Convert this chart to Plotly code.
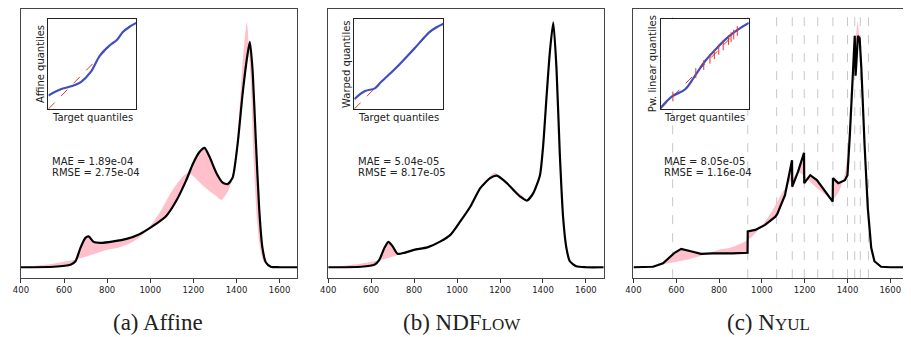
import plotly.graph_objects as go

# ---------------- data ----------------
# target intensity histogram (pink reference)
x_target = [400, 450, 500, 550, 600, 650, 700, 750, 800, 850, 900, 950, 1000, 1050, 1100,
            1150, 1175, 1200, 1250, 1300, 1330, 1360, 1390, 1410, 1430, 1448, 1465, 1480,
            1495, 1510, 1525, 1550, 1600, 1683]
y_target = [0.0, 0.02, 0.045, 0.07, 0.11, 0.15, 0.21, 0.28, 0.35, 0.39, 0.47, 0.60, 0.83, 1.14, 1.53,
            1.82, 1.90, 1.83, 1.62, 1.45, 1.35, 1.52, 1.92, 2.90, 4.20, 4.93, 3.85, 2.15,
            0.95, 0.37, 0.12, 0.03, 0.0, 0.0]

# (a) Affine
x_affine = [400, 553, 630, 653, 676, 699, 714, 737, 768, 829, 890, 952, 1013, 1074, 1120, 1166,
            1198, 1229, 1252, 1275, 1306, 1336, 1359, 1382, 1405, 1428, 1451, 1462, 1474, 1490,
            1505, 1520, 1536, 1559, 1600, 1683]
y_affine = [0.0, 0.01, 0.05, 0.12, 0.39, 0.59, 0.62, 0.51, 0.49, 0.52, 0.57, 0.67, 0.83, 1.03, 1.33, 1.74,
            2.08, 2.32, 2.40, 2.22, 1.90, 1.70, 1.67, 1.80, 2.47, 3.47, 4.27, 4.53, 4.00, 2.53,
            1.20, 0.40, 0.10, 0.01, 0.0, 0.0]

# (b) NDFlow
x_ndflow = [400, 554, 615, 638, 662, 680, 700, 723, 754, 800, 862, 923, 969, 1015, 1062, 1108,
            1154, 1185, 1232, 1263, 1294, 1325, 1355, 1386, 1401, 1417, 1432, 1448, 1463, 1478,
            1494, 1509, 1525, 1555, 1600, 1683]
y_ndflow = [0.0, 0.01, 0.05, 0.15, 0.39, 0.51, 0.42, 0.27, 0.29, 0.35, 0.40, 0.52, 0.65, 0.92, 1.22, 1.59,
            1.79, 1.84, 1.69, 1.55, 1.42, 1.34, 1.49, 1.85, 2.45, 3.45, 4.32, 4.92, 3.99, 2.32,
            0.99, 0.39, 0.12, 0.02, 0.0, 0.0]

# (c) Nyul (piecewise linear, jumps at landmarks)
x_nyul = [400, 492, 538, 569, 592, 623, 646, 677, 715, 769, 862, 933, 934, 969, 1015, 1062, 1072,
          1108, 1141, 1142, 1169, 1197, 1198, 1226, 1257, 1295, 1331, 1332, 1357, 1388, 1400, 1411,
          1426, 1434, 1438, 1449, 1457, 1465, 1480, 1495, 1511, 1526, 1557, 1600, 1683]
y_nyul = [0.0, 0.01, 0.08, 0.19, 0.29, 0.37, 0.35, 0.31, 0.27, 0.28, 0.28, 0.29, 0.72, 0.75, 0.85, 1.01, 1.07,
          1.45, 2.15, 1.62, 1.92, 2.30, 1.69, 1.85, 1.75, 1.52, 1.32, 1.79, 1.69, 1.75, 1.85, 2.65,
          3.79, 4.65, 3.85, 4.65, 4.60, 3.99, 2.45, 1.19, 0.39, 0.12, 0.01, 0.0, 0.0]
nyul_landmarks = [583, 934, 1069, 1142, 1198, 1261, 1332, 1400, 1434, 1460, 1498]

# Q-Q insets (normalised quantiles)
qq_diag = [0, 1]
qa_x = [0, 0.14, 0.25, 0.37, 0.48, 0.59, 0.70, 0.78, 0.85, 0.93, 1.0]
qa_y = [0.15, 0.22, 0.25, 0.30, 0.41, 0.60, 0.71, 0.77, 0.86, 0.92, 0.96]
qb_x = [0, 0.12, 0.23, 0.30, 0.49, 0.67, 0.86, 1.0]
qb_y = [0.11, 0.20, 0.23, 0.30, 0.48, 0.67, 0.87, 0.95]
qc_x = [0, 0.13, 0.28, 0.39, 0.51, 0.62, 0.73, 0.84, 1.0]
qc_y = [0.01, 0.14, 0.22, 0.37, 0.54, 0.66, 0.77, 0.86, 0.96]
qc_landmarks = [0.14, 0.40, 0.49, 0.56, 0.61, 0.66, 0.71, 0.77, 0.80, 0.83, 0.87]

tick_vals = [400, 600, 800, 1000, 1200, 1400, 1600]
tick_text = ["400", "600", "800", "1000", "1200", "1400", "1600"]

mae_text = ["MAE = 1.89e-04", "MAE = 5.04e-05", "MAE = 8.05e-05"]
rmse_text = ["RMSE = 2.75e-04", "RMSE = 8.17e-05", "RMSE = 1.16e-04"]
inset_ylabels = ["Affine quantiles", "Warped quantiles", "Pw. linear quantiles"]
captions = ["(a) Affine",
            "(b) NDF<span style='font-size:17px'>LOW</span>",
            "(c) N<span style='font-size:17px'>YUL</span>"]

# ---------------- layout helpers ----------------
# the page body has an 8px margin, so the figure starts at (8, 8) in the window
OFF = 8
W, H = 911 - OFF, 337 - OFF
def fx(p):
    return (p - OFF) / W
def fy(p):
    return 1 - (p - OFF) / H

main_x = [(13, 292), (323, 601), (631, 908)]
main_y = (8.5, 278)
inset_x = [(40.7, 129.3), (349.3, 439.3), (658.3, 747.3)]
inset_y = (18.3, 108.3)

PINK = "#FFC0CB"
BLUE = "#3f4fbf"
RED = "#e8312a"
SANS = "DejaVu Sans"

fig = go.Figure()

curves = [(x_affine, y_affine), (x_ndflow, y_ndflow), (x_nyul, y_nyul)]
shapes_ = ["spline", "spline", "linear"]
qqs = [(qa_x, qa_y), (qb_x, qb_y), (qc_x, qc_y)]

for i in range(3):
    xa = "x" if i == 0 else f"x{i+1}"
    ya = "y" if i == 0 else f"y{i+1}"
    fig.add_trace(go.Scatter(x=x_target, y=y_target, xaxis=xa, yaxis=ya, mode="lines",
                             line=dict(width=0, color=PINK, shape="spline", smoothing=0.6),
                             showlegend=False, hoverinfo="skip"))
    cx, cy = curves[i]
    fig.add_trace(go.Scatter(x=cx, y=cy, xaxis=xa, yaxis=ya, mode="lines", fill="tonexty",
                             fillcolor=PINK,
                             line=dict(width=2.2, color="black", shape=shapes_[i], smoothing=0.6),
                             showlegend=False))

# insets
for i in range(3):
    xa = f"x{i+4}"
    ya = f"y{i+4}"
    fig.add_trace(go.Scatter(x=qq_diag, y=qq_diag, xaxis=xa, yaxis=ya, mode="lines",
                             line=dict(width=1, color=RED, dash="dash"), showlegend=False))
    qx, qy = qqs[i]
    fig.add_trace(go.Scatter(x=qx, y=qy, xaxis=xa, yaxis=ya, mode="lines",
                             line=dict(width=2.2, color=BLUE, shape="spline"), showlegend=False))
    if i == 2:
        fig.add_trace(go.Scatter(x=qc_landmarks, y=qc_landmarks, xaxis=xa, yaxis=ya,
                                 mode="markers",
                                 marker=dict(symbol="line-ns", size=7,
                                             line=dict(width=1, color=RED)),
                                 showlegend=False))

layout = dict(width=W, height=H, margin=dict(l=0, r=0, t=0, b=0),
              paper_bgcolor="white", plot_bgcolor="white", showlegend=False)

for i in range(3):
    k = "" if i == 0 else str(i + 1)
    layout[f"xaxis{k}"] = dict(domain=[fx(main_x[i][0]), fx(main_x[i][1])], range=[400, 1683],
                               anchor=f"y{k}", showline=True, mirror=True, linecolor="#444",
                               linewidth=1, showgrid=False, zeroline=False, ticks="outside",
                               ticklen=3.5, tickwidth=0.8, tickcolor="#333",
                               tickvals=tick_vals, ticktext=tick_text,
                               tickfont=dict(family=SANS, size=8.5, color="#222"))
    layout[f"yaxis{k}"] = dict(domain=[fy(main_y[1]), fy(main_y[0])], range=[-0.22, 5.18],
                               anchor=f"x{k}", showline=True, mirror=True, linecolor="#444",
                               linewidth=1, showgrid=False, zeroline=False,
                               showticklabels=False, ticks="")
for i in range(3):
    k = str(i + 4)
    layout[f"xaxis{k}"] = dict(domain=[fx(inset_x[i][0]), fx(inset_x[i][1])], range=[0, 1],
                               anchor=f"y{k}", showline=True, mirror=True, linecolor="#222",
                               linewidth=1, showgrid=False, zeroline=False,
                               showticklabels=False, ticks="")
    layout[f"yaxis{k}"] = dict(domain=[fy(inset_y[1]), fy(inset_y[0])], range=[0, 1],
                               anchor=f"x{k}", showline=True, mirror=True, linecolor="#222",
                               linewidth=1, showgrid=False, zeroline=False,
                               showticklabels=False, ticks="")

fig.update_layout(**layout)

# dashed landmark lines in panel (c)
for lm in nyul_landmarks:
    fig.add_shape(type="line", xref="x3", yref="y3 domain", x0=lm, x1=lm, y0=0, y1=1,
                  line=dict(color="#c8c8c8", width=1, dash="dash"), layer="below")

ann = []
mae_left = [42.3, 350.7, 659.3]
for i in range(3):
    ann.append(dict(text=mae_text[i], x=fx(mae_left[i]), y=fy(160.5), xref="paper", yref="paper",
                    xanchor="left", yanchor="middle", showarrow=False,
                    font=dict(family=SANS, size=10, color="#222")))
    ann.append(dict(text=rmse_text[i], x=fx(mae_left[i]), y=fy(171.5), xref="paper", yref="paper",
                    xanchor="left", yanchor="middle", showarrow=False,
                    font=dict(family=SANS, size=10, color="#222")))
    cxm = (inset_x[i][0] + inset_x[i][1]) / 2
    ann.append(dict(text="Target quantiles", x=fx(cxm), y=fy(116.5), xref="paper", yref="paper",
                    xanchor="center", yanchor="middle", showarrow=False,
                    font=dict(family=SANS, size=10, color="#222")))
    ann.append(dict(text=inset_ylabels[i], x=fx(inset_x[i][0] - 8.5), y=fy(63.3), xref="paper",
                    yref="paper", xanchor="center", yanchor="middle", textangle=-90,
                    showarrow=False, font=dict(family=SANS, size=10, color="#222")))
cap_cx = [151, 458, 767]
for i in range(3):
    ann.append(dict(text=captions[i], x=fx(cap_cx[i]), y=fy(322), xref="paper", yref="paper",
                    xanchor="center", yanchor="middle", showarrow=False,
                    font=dict(family="Liberation Serif", size=23, color="#222")))
fig.update_layout(annotations=ann)

fig.write_html("out.html")
